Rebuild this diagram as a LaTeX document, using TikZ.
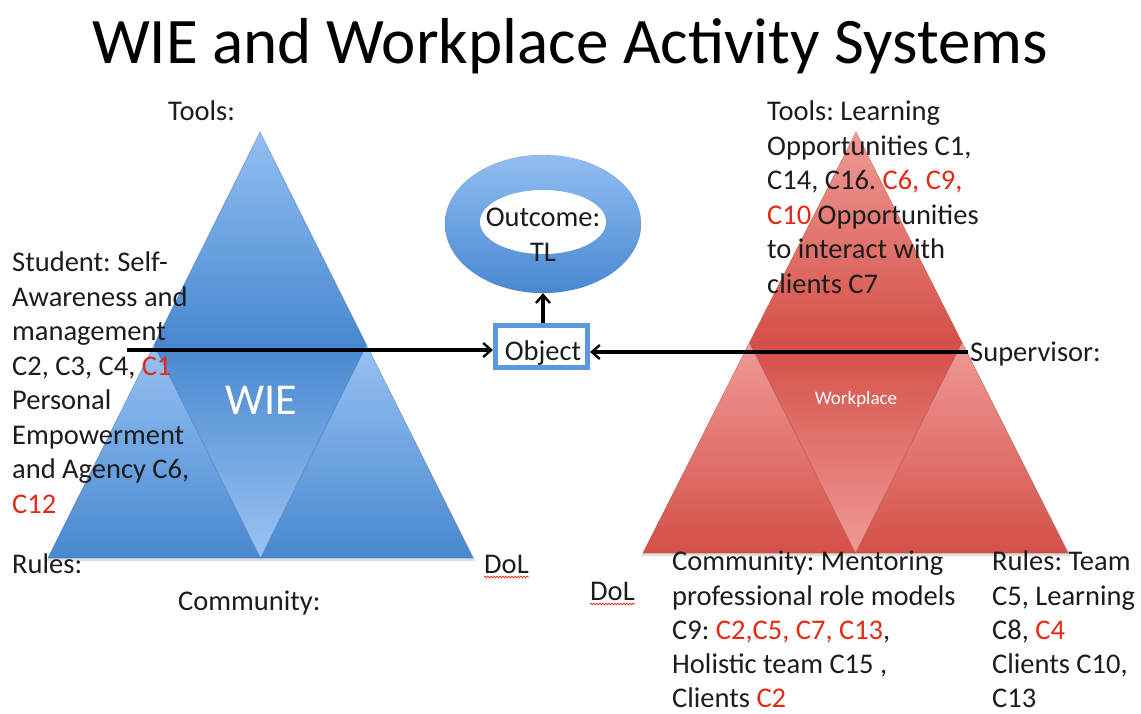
\documentclass[tikz,border=0pt]{standalone}
\usepackage{fontspec}
\setmainfont{Carlito}
\frenchspacing
\usetikzlibrary{arrows.meta,decorations.pathmorphing,shapes.geometric}
\definecolor{txt}{RGB}{28,28,28}
\definecolor{cred}{RGB}{228,42,22}
\definecolor{blueL}{RGB}{146,190,242}
\definecolor{blueD}{RGB}{72,136,208}
\definecolor{blueE}{RGB}{60,115,180}
\definecolor{redL}{RGB}{240,154,150}
\definecolor{redD}{RGB}{212,80,72}
\definecolor{redE}{RGB}{170,70,62}
\definecolor{objblue}{RGB}{92,152,222}
\newcommand{\rc}[1]{\textcolor{cred}{#1}}
\begin{document}
\begin{tikzpicture}[x=1pt,y=-1pt,
  body/.style={font=\fontsize{28.5}{34.5}\selectfont, text=txt, inner sep=0pt, align=left},
  blk/.style={body, anchor=north west},
  one/.style={body, anchor=base west},
  edgeb/.style={draw=blueE, line width=0.6pt},
  edger/.style={draw=redE, line width=0.6pt},
  shadowtri/.style={fill=black, fill opacity=0.12},
  arr/.style={draw=black, line width=3.2pt, -{Straight Barb[length=8pt,width=14pt,line width=2.4pt]}},
  wavy/.style={draw=cred, line width=0.7pt, decorate, decoration={snake, amplitude=0.9pt, segment length=3pt}}]
\useasboundingbox (0,0) rectangle (1141,713);
\fill[white] (0,0) rectangle (1141,713);

% title
\node[font=\fontsize{65}{65}\selectfont, text=black, inner sep=0pt, anchor=base] (title) at (570,63) {WIE and Workplace Activity Systems};

% ---- left (WIE) triangle
\coordinate (LA) at (260,132);
\coordinate (LL) at (48,558);
\coordinate (LR) at (473,558);
\coordinate (LML) at (154,345);
\coordinate (LMR) at (366.5,345);
\coordinate (LB) at (260.5,558);
\fill[shadowtri] (261,136) -- (476,561) -- (46,561) -- cycle;
\shade[top color=blueL, bottom color=blueD] (LA) -- (LMR) -- (LML) -- cycle;
\shade[top color=blueL!95!white, bottom color=blueD] (LML) -- (LB) -- (LL) -- cycle;
\shade[top color=blueL!95!white, bottom color=blueD] (LMR) -- (LR) -- (LB) -- cycle;
\shade[top color=blueD, bottom color=blueL!92!white] (LML) -- (LMR) -- (LB) -- cycle;
\draw[edgeb, draw opacity=0.5] (LA) -- (LR) -- (LL) -- cycle;
\draw[edgeb, draw opacity=0.6] (LML) -- (LMR) -- (LB) -- cycle;
\node[font=\fontsize{44}{44}\selectfont, text=white, inner sep=0pt, anchor=base] (wie) at (261,414) {WIE};

% ---- right (Workplace) triangle
\coordinate (RA) at (856,132);
\coordinate (RL) at (643,553);
\coordinate (RR) at (1068,553);
\coordinate (RML) at (749.5,342.5);
\coordinate (RMR) at (962,342.5);
\coordinate (RB) at (855.5,553);
\fill[shadowtri] (857,136) -- (1071,556) -- (641,556) -- cycle;
\shade[top color=redL, bottom color=redD] (RA) -- (RMR) -- (RML) -- cycle;
\shade[top color=redL, bottom color=redD] (RML) -- (RB) -- (RL) -- cycle;
\shade[top color=redL, bottom color=redD] (RMR) -- (RR) -- (RB) -- cycle;
\shade[top color=redD, bottom color=redL] (RML) -- (RMR) -- (RB) -- cycle;
\draw[edger, draw opacity=0.5] (RA) -- (RR) -- (RL) -- cycle;
\draw[edger, draw opacity=0.6] (RML) -- (RMR) -- (RB) -- cycle;
\node[font=\fontsize{19}{19}\selectfont, text=white, inner sep=0pt, anchor=base] (wp) at (856,404) {Workplace};

% ---- outcome ring
\node[ellipse, minimum width=196pt, minimum height=138pt, inner sep=0pt,
      top color=blueL, bottom color=blueD, draw=blueE, draw opacity=0.4] (out) at (543,224) {};
\node[ellipse, minimum width=126pt, minimum height=64pt, inner sep=0pt, fill=white] (outin) at (543,222) {};
\node[body, align=center, anchor=base] (outt) at (543,261) {Outcome:\\TL};

% ---- object box
\node[draw=objblue, line width=5pt, fill=white, minimum width=92pt, minimum height=42pt, inner sep=0pt] (obj) at (541.5,346.5) {};
\node[one, anchor=base] (objt) at (543,360) {Object};

% ---- arrows
\coordinate (lstart) at (127,350);
\coordinate (rstart) at (968,352);
\draw[arr] (lstart) -- (lstart -| obj.west);
\draw[arr] (rstart) -- (rstart -| obj.east);
\draw[arr] (out.south |- obj.north) -- (out.south);

% ---- left labels
\node[one] (ltools) at (168,120) {Tools:};
\node[blk] (student) at (12,252) {Student: Self-\\Awareness and\\management\\C2, C3, C4, \rc{C1}\\Personal\\Empowerment\\and Agency C6,\\\rc{C12}};
\node[one] (lrules) at (12,573) {Rules:};
\node[one] (lcomm) at (178,610) {Community:};
\node[one] (ldol) at (484,573) {DoL};
\draw[wavy] ([yshift=-4pt]ldol.base west) -- ([yshift=-4pt]ldol.base east);

% ---- right labels
\node[blk] (rtools) at (767,101) {Tools: Learning\\Opportunities C1,\\C14, C16. \rc{C6, C9,}\\\rc{C10} Opportunities\\to interact with\\clients C7};
\node[one] (sup) at (970,361) {Supervisor:};
\node[one] (rdol) at (590,600) {DoL};
\draw[wavy] ([yshift=-4pt]rdol.base west) -- ([yshift=-4pt]rdol.base east);
\node[blk, font=\fontsize{28.5}{34.2}\selectfont] (rcomm) at (672,551) {Community: Mentoring\\professional role models\\C9: \rc{C2,C5, C7, C13},\\Holistic team C15 ,\\Clients \rc{C2}};
\node[blk, font=\fontsize{28.5}{34.2}\selectfont] (rrules) at (992,551) {Rules: Team\\C5, Learning\\C8, \rc{C4}\\Clients C10,\\C13};
\end{tikzpicture}
\end{document}
